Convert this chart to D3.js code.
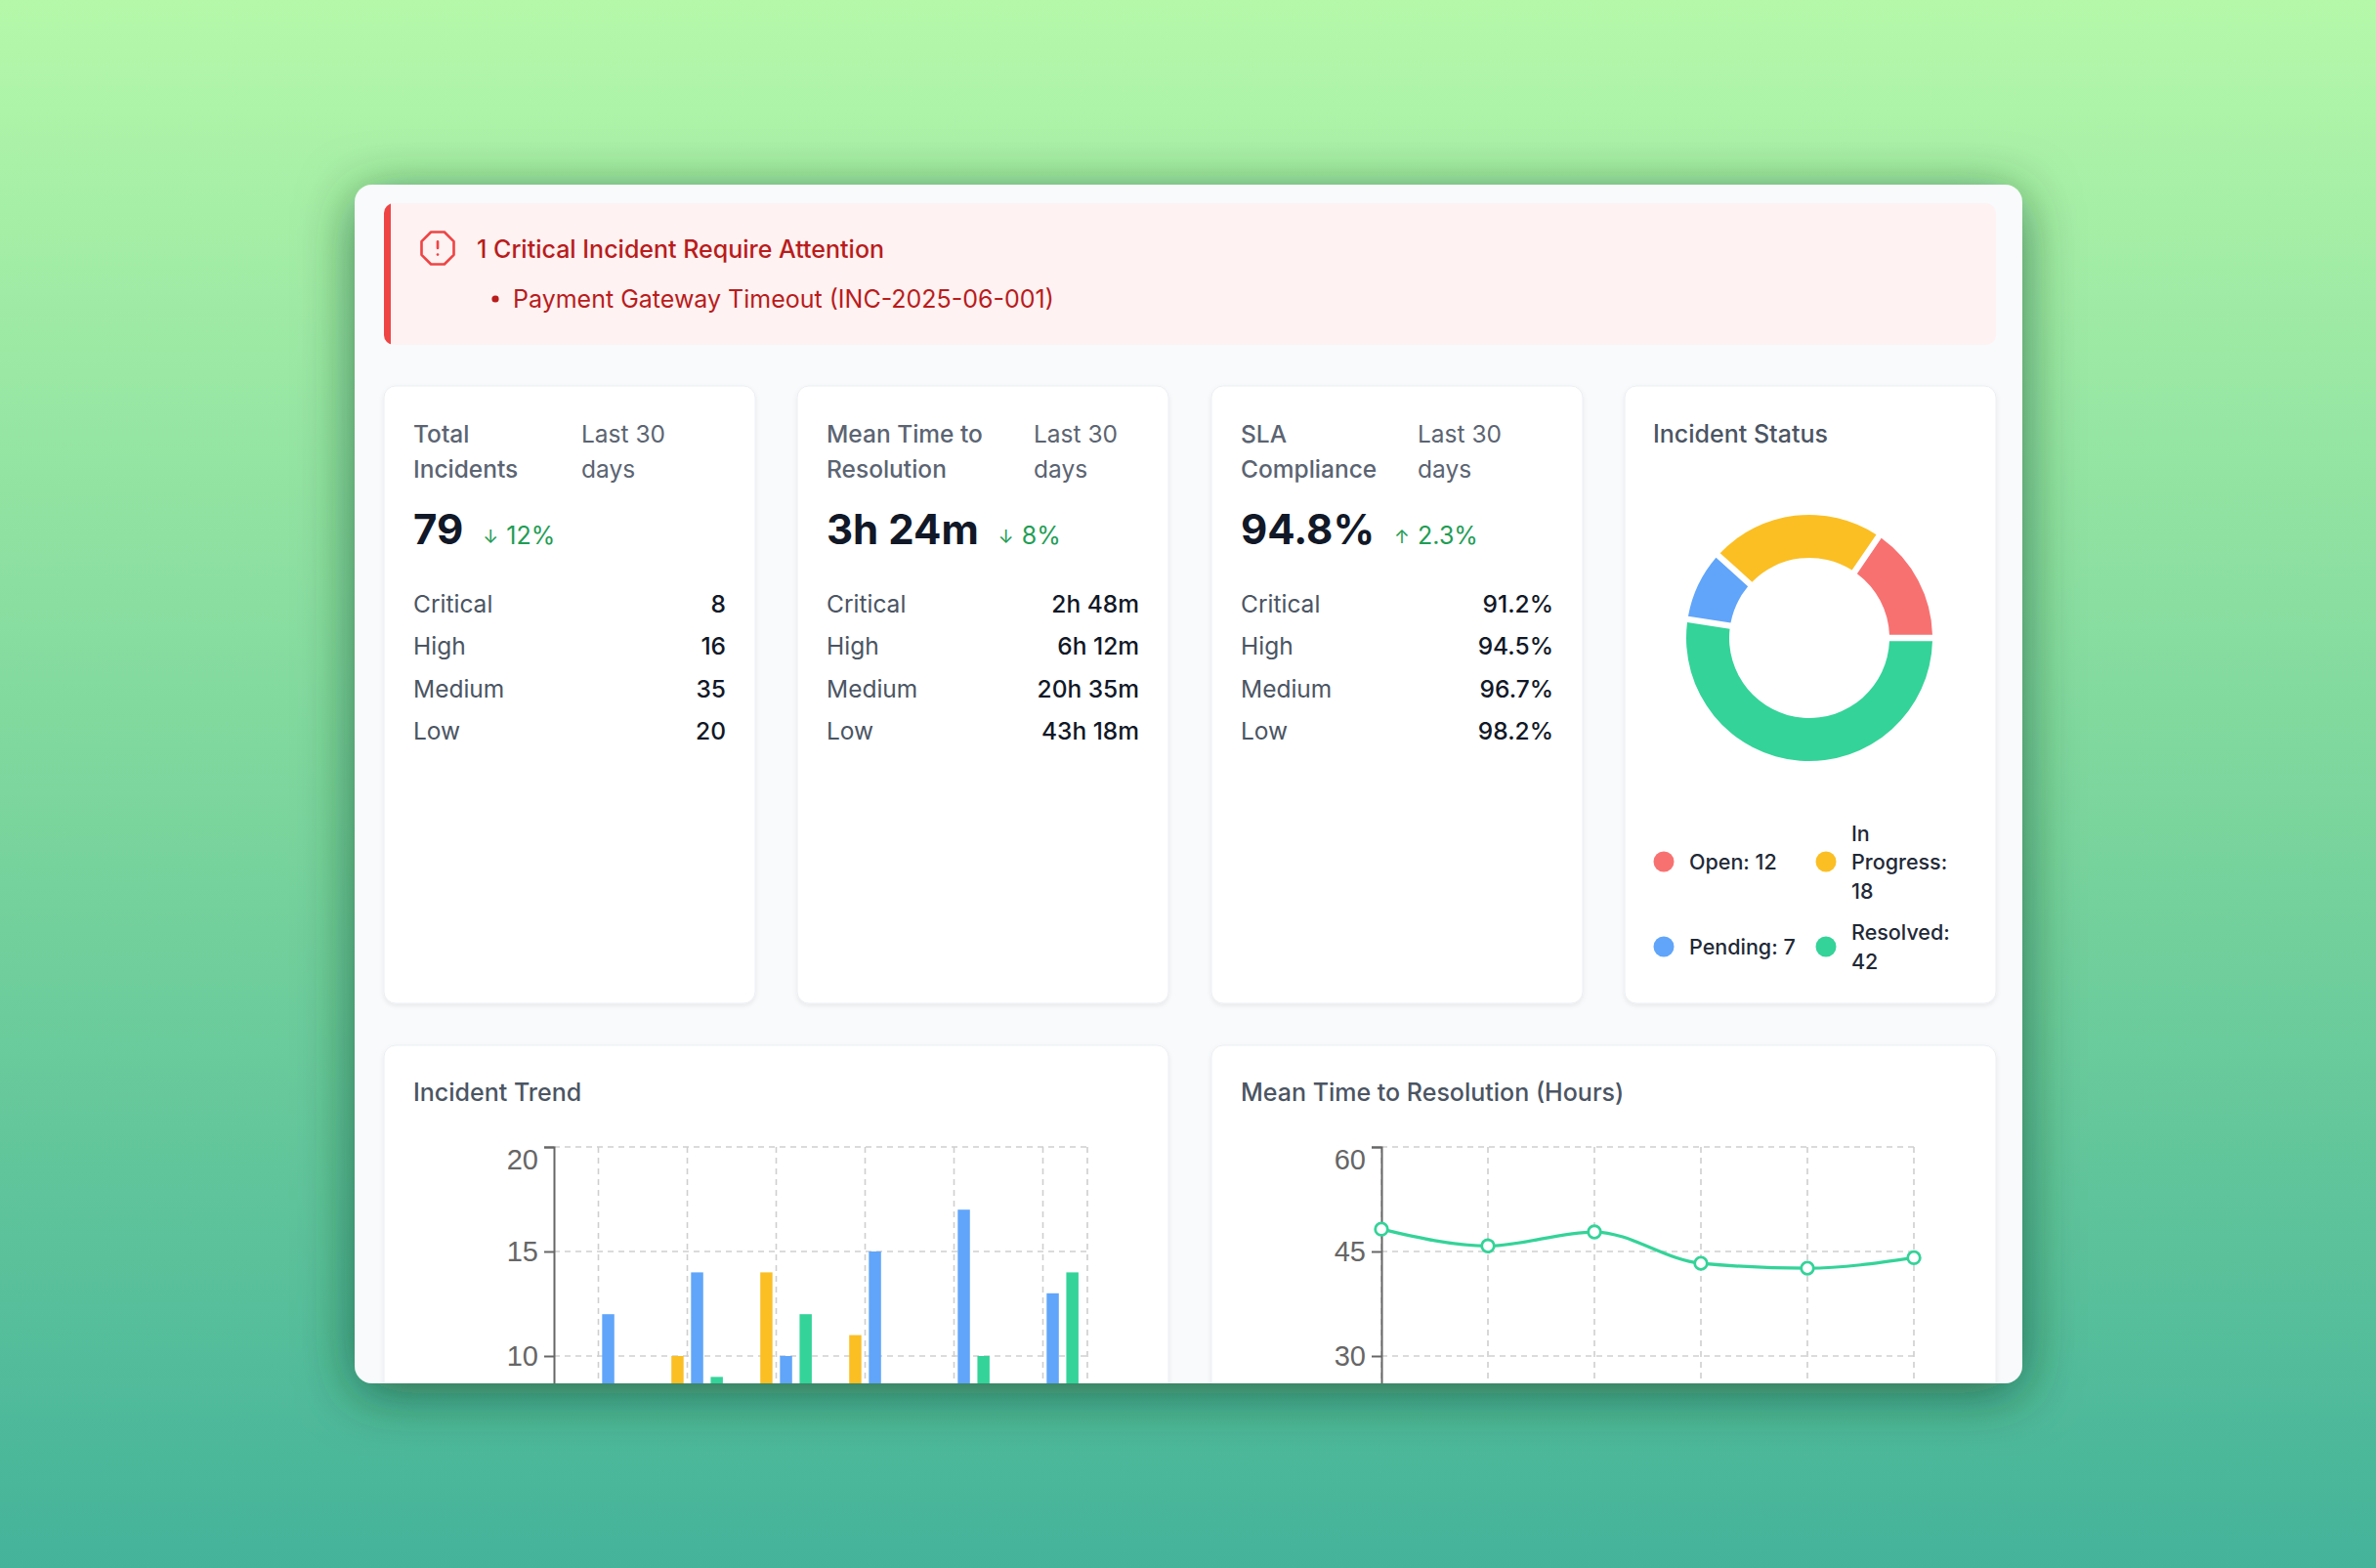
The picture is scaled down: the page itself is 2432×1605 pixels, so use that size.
<!DOCTYPE html>
<html><head><meta charset="utf-8">
<script src="https://cdn.jsdelivr.net/npm/d3@7"></script>
<style>
html,body{margin:0;padding:0;overflow:hidden;background:#7fd49a}
svg{display:block}
text{font-family:Inter,"Noto Sans",sans-serif}
</style>
</head><body>
<svg id="c" width="2432" height="1605"></svg>
<script>
// ---------------- data ----------------
const alertTitle = "1 Critical Incident Require Attention";
const alertItems = ["Payment Gateway Timeout (INC-2025-06-001)"];
const statTitles = [["Total","Incidents"],["Mean Time to","Resolution"],["SLA","Compliance"]];
const periodLines = ["Last 30","days"];
const statValues = ["79","3h 24m","94.8%"];
const statChanges = ["12%","8%","2.3%"];
const statArrows = ["↓","↓","↑"];
const severityLabels = ["Critical","High","Medium","Low"];
const severityCounts = ["8","16","35","20"];
const severityMttr = ["2h 48m","6h 12m","20h 35m","43h 18m"];
const severitySla = ["91.2%","94.5%","96.7%","98.2%"];
const statusTitle = "Incident Status";
const statusLabels = ["Open","In Progress","Pending","Resolved"];
const statusValues = [12,18,7,42];
const trendTitle = "Incident Trend";
const trendCategories = ["Jan","Feb","Mar","Apr","May","Jun"];
const trendSeries = ["Critical","High","Medium","Low"];
const trendCritical = [3,2,4,1,5,2];
const trendHigh = [8,10,14,11,7,6];
const trendMedium = [12,14,10,15,17,13];
const trendLow = [7,9,12,8,10,14];
const trendTicks = [0,5,10,15,20];
const mttrTitle = "Mean Time to Resolution (Hours)";
const mttrHours = [48.2,45.8,47.8,43.3,42.6,44.1];
const mttrTicks = [0,15,30,45,60];

// ---------------- styles / layout ----------------
const statusColors = ["#f87171","#fbbf24","#60a5fa","#34d399"];
const seriesColors = ["#f87171","#fbbf24","#60a5fa","#34d399"];
const W = 2432, H = 1605;
const svg = d3.select("#c");
const defs = svg.append("defs");

const bg = defs.append("linearGradient").attr("id","bg").attr("x1",0).attr("y1",0).attr("x2",0).attr("y2",1);
bg.append("stop").attr("offset","0%").attr("stop-color","#b5f8aa");
bg.append("stop").attr("offset","55%").attr("stop-color","#77d39c");
bg.append("stop").attr("offset","100%").attr("stop-color","#44b39a");

const sh = defs.append("filter").attr("id","shadow").attr("x","-20%").attr("y","-20%").attr("width","140%").attr("height","140%");
sh.append("feDropShadow").attr("dx",0).attr("dy",10).attr("stdDeviation",28).attr("flood-color","#0b3d22").attr("flood-opacity",0.62);
const sh2 = defs.append("filter").attr("id","cardShadow").attr("x","-10%").attr("y","-10%").attr("width","120%").attr("height","120%");
sh2.append("feDropShadow").attr("dx",0).attr("dy",2).attr("stdDeviation",2.5).attr("flood-color","#000").attr("flood-opacity",0.07);

const outer = {x:363, y:189, w:1707, h:1227, r:18};
const clipBottom = outer.y + outer.h;
defs.append("clipPath").attr("id","outerClip").append("rect")
  .attr("x",outer.x).attr("y",outer.y).attr("width",outer.w).attr("height",outer.h).attr("rx",outer.r);

svg.append("rect").attr("width",W).attr("height",H).attr("fill","url(#bg)");
svg.append("rect").attr("x",outer.x).attr("y",outer.y).attr("width",outer.w).attr("height",outer.h)
  .attr("rx",outer.r).attr("fill","#f8fafc").attr("filter","url(#shadow)");

const root = svg.append("g").attr("clip-path","url(#outerClip)");

// ---------------- alert ----------------
const al = {x:393, y:208, w:1650, h:145, r:10};
defs.append("clipPath").attr("id","alertClip").append("rect")
  .attr("x",al.x).attr("y",al.y).attr("width",al.w).attr("height",al.h).attr("rx",al.r);
const ag = root.append("g").attr("clip-path","url(#alertClip)");
ag.append("rect").attr("x",al.x).attr("y",al.y).attr("width",al.w).attr("height",al.h).attr("fill","#fef2f2");
ag.append("rect").attr("x",al.x).attr("y",al.y).attr("width",7).attr("height",al.h).attr("fill","#ef4444");

const ic = root.append("g").attr("transform",`translate(${448-12*1.65},${254-12*1.65}) scale(1.65)`)
  .attr("fill","none").attr("stroke","#ef4444").attr("stroke-width",1.6).attr("stroke-linecap","round").attr("stroke-linejoin","round");
ic.append("polygon").attr("points","7.86 2 16.14 2 22 7.86 22 16.14 16.14 22 7.86 22 2 16.14 2 7.86");
ic.append("line").attr("x1",12).attr("y1",8).attr("x2",12).attr("y2",12);
ic.append("line").attr("x1",12).attr("y1",16).attr("x2",12.01).attr("y2",16);

root.append("text").attr("x",488).attr("y",264).attr("font-size",25).attr("font-weight",500)
  .attr("fill","#b91c1c").text(alertTitle);
alertItems.forEach((t,i)=>{
  root.append("circle").attr("cx",507).attr("cy",306+i*34).attr("r",3.6).attr("fill","#b91c1c");
  root.append("text").attr("x",525).attr("y",315+i*34).attr("font-size",25).attr("fill","#b91c1c").text(t);
});

// ---------------- cards ----------------
const cardX = [393, 816, 1240, 1663], cardY = 395, cardW = 380, cardH = 632, pad = 30;
function card(x,y,w,h){
  root.append("rect").attr("x",x).attr("y",y).attr("width",w).attr("height",h).attr("rx",12)
    .attr("fill","#ffffff").attr("stroke","#eceef2").attr("stroke-width",1).attr("filter","url(#cardShadow)");
}
const periodOffset = [202, 242, 211];
const rowValues = [severityCounts, severityMttr, severitySla];
for (let i=0;i<3;i++){
  const x = cardX[i];
  card(x, cardY, cardW, cardH);
  statTitles[i].forEach((t,j)=>root.append("text").attr("x",x+pad).attr("y",453+j*36)
    .attr("font-size",24.5).attr("font-weight",500).attr("fill","#5b6472").text(t));
  periodLines.forEach((t,j)=>root.append("text").attr("x",x+periodOffset[i]).attr("y",453+j*36)
    .attr("font-size",24.5).attr("font-weight",400).attr("fill","#5b6472").text(t));
  const v = root.append("text").attr("x",x+pad).attr("y",557).attr("font-size",42).attr("font-weight",700)
    .attr("fill","#111827").text(statValues[i]);
  const vw = v.node().getComputedTextLength();
  const ax = x+pad+vw+20;
  root.append("text").attr("x",ax).attr("y",556).attr("font-size",19).attr("fill","#1f9d55").text(statArrows[i]);
  root.append("text").attr("x",ax+24).attr("y",557).attr("font-size",25).attr("fill","#1f9d55").text(statChanges[i]);
  severityLabels.forEach((l,j)=>{
    const yy = 627 + j*43.4;
    root.append("text").attr("x",x+pad).attr("y",yy).attr("font-size",24.5).attr("fill","#4b5563").text(l);
    root.append("text").attr("x",x+cardW-pad).attr("y",yy).attr("text-anchor","end").attr("font-size",24.5)
      .attr("font-weight",500).attr("fill","#111827").text(rowValues[i][j]);
  });
}

// ---------------- donut ----------------
{
  const x = cardX[3];
  card(x, cardY, cardW, cardH);
  root.append("text").attr("x",x+pad-1).attr("y",453).attr("font-size",25).attr("font-weight",500)
    .attr("fill","#4b5563").text(statusTitle);
  const cx = 1852, cy = 653;
  const pie = d3.pie().sort(null).value(d=>d)
    .startAngle(Math.PI/2).endAngle(Math.PI/2 - 2*Math.PI).padAngle(0.042);
  const arc = d3.arc().innerRadius(82).outerRadius(126);
  root.append("g").attr("transform",`translate(${cx},${cy})`)
    .selectAll("path").data(pie(statusValues)).join("path")
    .attr("d",arc).attr("fill",(d,i)=>statusColors[i]);

  const legX = [1703, 1869], legY = [882, 969], maxW = 120;
  statusLabels.forEach((l,i)=>{
    const lx = legX[i%2], ly = legY[Math.floor(i/2)];
    root.append("circle").attr("cx",lx).attr("cy",ly).attr("r",10.5).attr("fill",statusColors[i]);
    const words = (l+": "+statusValues[i]).split(" ");
    const t = root.append("text").attr("font-size",21.5).attr("font-weight",500).attr("fill","#1f2937");
    const lines = []; let cur = "";
    const probe = root.append("text").attr("font-size",21.5).attr("font-weight",500);
    words.forEach(w=>{
      const test = cur ? cur+" "+w : w;
      probe.text(test);
      if (cur && probe.node().getComputedTextLength() > maxW){ lines.push(cur); cur = w; }
      else cur = test;
    });
    lines.push(cur); probe.remove();
    const lh = 29.5, y0 = ly - (lines.length-1)*lh/2 + 8;
    lines.forEach((s,k)=>t.append("tspan").attr("x",lx+26).attr("y",y0+k*lh).text(s));
  });
}

// ---------------- bottom panels ----------------
const panelX = [393, 1240], panelY = 1070, panelW = 803, panelH = 640;
panelX.forEach(px=>card(px, panelY, panelW, panelH));
root.append("text").attr("x",423).attr("y",1127).attr("font-size",25).attr("font-weight",500).attr("fill","#4b5563").text(trendTitle);
root.append("text").attr("x",1270).attr("y",1127).attr("font-size",25).attr("font-weight",500).attr("fill","#4b5563").text(mttrTitle);

function styleAxis(g, y, top){
  g.select(".domain").attr("stroke","#666").attr("stroke-width",2);
  g.selectAll(".tick line").attr("stroke","#666").attr("stroke-width",2);
  g.selectAll(".tick text").attr("fill","#666").attr("font-size",29)
    .style("font-family","'Liberation Sans', Arial, sans-serif")
    .attr("dy",d=>d===top ? "0.78em" : "0.34em");
  // labels that fall below the visible frame are not drawn
  g.selectAll(".tick").filter(d=>y(d) > clipBottom - 8).select("text").remove();
}
const grid = {stroke:"#cfcfcf", dash:"6 5", w:1.6};

// bar chart
{
  const y = d3.scaleLinear().domain([0,20]).range([1602,1174]);
  const x = d3.scaleBand().domain(trendCategories).range([567,1113]);
  const bw = x.bandwidth();
  const xs = d3.scaleBand().domain(trendSeries).range([bw*0.1, bw*0.9]).paddingInner(0.38);
  const g = root.append("g");
  g.selectAll(".hg").data(trendTicks).join("line")
    .attr("x1",567).attr("x2",1113).attr("y1",d=>y(d)).attr("y2",d=>y(d))
    .attr("stroke",grid.stroke).attr("stroke-dasharray",grid.dash).attr("stroke-width",grid.w);
  const vx = trendCategories.map(c=>x(c)+bw/2).concat([1113]);
  g.selectAll(".vg").data(vx).join("line")
    .attr("x1",d=>d).attr("x2",d=>d).attr("y1",1174).attr("y2",1602)
    .attr("stroke",grid.stroke).attr("stroke-dasharray",grid.dash).attr("stroke-width",grid.w);
  const seriesVals = [trendCritical, trendHigh, trendMedium, trendLow];
  seriesVals.forEach((vals,si)=>{
    g.selectAll(".b"+si).data(vals).join("rect")
      .attr("x",(d,i)=>x(trendCategories[i])+xs(trendSeries[si]))
      .attr("y",d=>y(d)).attr("width",xs.bandwidth()).attr("height",d=>y(0)-y(d))
      .attr("fill",seriesColors[si]);
  });
  const ay = g.append("g").attr("transform","translate(567,0)")
    .call(d3.axisLeft(y).tickValues(trendTicks).tickSize(10).tickPadding(6));
  styleAxis(ay, y, 20);
}

// line chart
{
  const y = d3.scaleLinear().domain([0,60]).range([1602,1174]);
  const x = d3.scalePoint().domain(trendCategories).range([1414,1959]);
  const g = root.append("g");
  g.selectAll(".hg").data(mttrTicks).join("line")
    .attr("x1",1414).attr("x2",1959).attr("y1",d=>y(d)).attr("y2",d=>y(d))
    .attr("stroke",grid.stroke).attr("stroke-dasharray",grid.dash).attr("stroke-width",grid.w);
  g.selectAll(".vg").data(trendCategories).join("line")
    .attr("x1",d=>x(d)).attr("x2",d=>x(d)).attr("y1",1174).attr("y2",1602)
    .attr("stroke",grid.stroke).attr("stroke-dasharray",grid.dash).attr("stroke-width",grid.w);
  const ay = g.append("g").attr("transform","translate(1414,0)")
    .call(d3.axisLeft(y).tickValues(mttrTicks).tickSize(10).tickPadding(6));
  styleAxis(ay, y, 60);
  const line = d3.line().x((d,i)=>x(trendCategories[i])).y(d=>y(d)).curve(d3.curveMonotoneX);
  g.append("path").datum(mttrHours).attr("d",line).attr("fill","none").attr("stroke","#34d399").attr("stroke-width",3.2);
  g.selectAll(".dot").data(mttrHours).join("circle")
    .attr("cx",(d,i)=>x(trendCategories[i])).attr("cy",d=>y(d)).attr("r",6.3)
    .attr("fill","#fff").attr("stroke","#34d399").attr("stroke-width",2.8);
}
</script>
</body></html>
